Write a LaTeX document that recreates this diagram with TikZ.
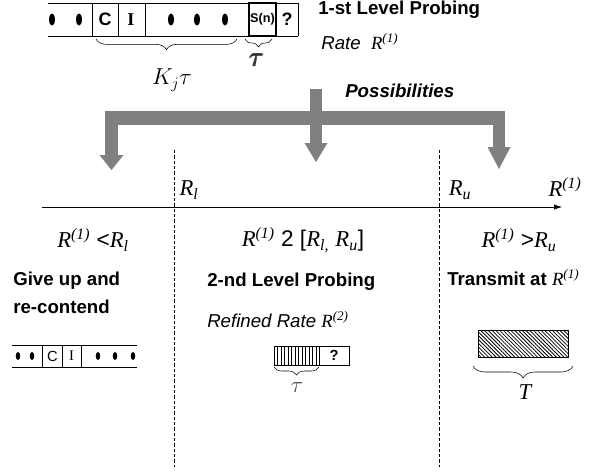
\documentclass[tikz,border=0pt]{standalone}
\usepackage{amsmath}
\usepackage{fontspec}
\setmainfont{Liberation Sans}
\newfontfamily\tim{Liberation Serif}
\usetikzlibrary{decorations.pathreplacing,arrows.meta,patterns.meta}
\definecolor{arrowgrey}{HTML}{808080}
\newcommand{\Rsup}[1]{{\tim\mdseries\itshape R\textsuperscript{(#1)}}}
\newcommand{\Rsub}[1]{{\tim\mdseries\itshape R\textsubscript{#1}}}
\tikzset{
  gar/.style={fill=arrowgrey,draw=none},
  lbl/.style={inner sep=0pt,anchor=west},
  boldtxt/.style={lbl,font=\fontsize{14}{16}\selectfont\bfseries},
  ittxt/.style={lbl,font=\fontsize{14}{16}\selectfont\itshape},
  mtxt/.style={inner sep=0pt,font=\fontsize{17}{19}\selectfont},
  cell/.style={inner sep=0pt,font=\fontsize{13.5}{15}\selectfont\bfseries},
  bracedn/.style={decorate,decoration={brace,mirror,amplitude=#1}},
  sep/.style={dash pattern=on 2.5pt off 1.5pt,line width=0.5pt},
}
\begin{document}
\begin{tikzpicture}[x=0.75pt,y=-0.75pt]
\useasboundingbox (0,0) rectangle (602,472);
% ---------- top strip ----------
\draw (48,3) -- (298,3);
\draw (48,36) -- (298,36);
\foreach \x in {92,118,145,249,276,298} \draw (\x,3) -- (\x,36);
\draw[line width=1.2pt] (249,3) rectangle (276,36);
\foreach \x in {52,79,171,197,225} \fill (\x,19.5) ellipse [x radius=2.2pt, y radius=4.6pt];
\node[cell] (c1) at (105,19.5) {C};
\node[cell,font=\fontsize{13.5}{15}\selectfont\bfseries\tim] (i1) at (131,19.5) {I};
\node[cell,font=\fontsize{9.5}{11}\selectfont\bfseries] (sn) at (262.5,19.5) {S(n)};
\node[cell] (q1) at (287,19.5) {?};
\draw[bracedn=8pt] (96,39) -- (237,39);
\draw[bracedn=6pt] (245,39) -- (272,39);
\node[inner sep=0pt,font=\fontsize{17}{19}\selectfont] (kj) at (172,80) {$K_j\tau$};
\node[inner sep=0pt,text=black!80,font=\fontsize{20}{22}\selectfont] (tau1) at (257,60) {$\pmb{\tau}$};
\node[boldtxt] (lev1) at (318,10) {1-st Level Probing};
\node[ittxt] (rate) at (321,42) {Rate\ \ \Rsup{1}};
\node[boldtxt,font=\fontsize{14}{16}\selectfont\bfseries\itshape] (poss) at (345,91) {Possibilities};
% ---------- grey arrows ----------
\fill[gar] (310,89) rectangle (322,143);
\fill[gar] (304.5,143) -- (327.5,143) -- (316,162) -- cycle;
\fill[gar] (105,111) rectangle (505,125);
\fill[gar] (105,125) rectangle (118,155);
\fill[gar] (99.5,155) -- (123.5,155) -- (111.5,170) -- cycle;
\fill[gar] (493,125) rectangle (505,147);
\fill[gar] (487.5,147) -- (510.5,147) -- (499,169) -- cycle;
% ---------- separators and axis ----------
\coordinate (dl0) at (174,150); \coordinate (dl1) at (174,467);
\coordinate (dr0) at (439,150); \coordinate (dr1) at (439,467);
\draw[sep] (dl0) -- (dl1);
\draw[sep] (dr0) -- (dr1);
\coordinate (ax0) at (42,207); \coordinate (ax1) at (562,207);
\draw[-{Latex[length=6pt,width=4pt]}] (ax0) -- (ax1);
\node[mtxt] (rl) at (189,190) {\Rsub{l}};
\node[mtxt] (ru) at (460,190) {\Rsub{u}};
\node[mtxt] (r1) at (565,187) {\Rsup{1}};
\node[mtxt] (c1a) at (93,240) {\Rsup{1} <\Rsub{l}};
\node[mtxt] (c2a) at (303,240) {\Rsup{1} 2 [{\tim\itshape R\textsubscript{l,}} \Rsub{u}]};
\node[mtxt] (c3a) at (519,240) {\Rsup{1} >\Rsub{u}};
% ---------- left column ----------
\node[boldtxt] (give) at (13,281) {Give up and};
\node[boldtxt] (recon) at (13,307) {re-contend};
\draw (12,345) -- (137,345);
\draw (12,367) -- (137,367);
\foreach \x in {42,62,81} \draw (\x,345) -- (\x,367);
\foreach \x in {18,32,98,115,133} \fill (\x,356) ellipse [x radius=1.7pt, y radius=3pt];
\node[inner sep=0pt,font=\fontsize{11}{13}\selectfont] (c2) at (52.5,356) {C};
\node[inner sep=0pt,font=\fontsize{11}{13}\selectfont\tim] (i2) at (71.5,356) {I};
% ---------- middle column ----------
\node[boldtxt] (lev2) at (207,282) {2-nd Level Probing};
\node[ittxt] (ref) at (207,320) {Refined Rate \Rsup{2}};
\draw (274,346) rectangle (319,365);
\foreach \x in {277.5,281,284.5,288,291.5,295,298.5,302,305.5,309,312.5,316} \draw[line width=0.35pt] (\x,346) -- (\x,365);
\draw (319,346) rectangle (349,365);
\node[cell,font=\fontsize{11}{13}\selectfont\bfseries] (q2) at (334,355.5) {?};
\draw[bracedn=6pt] (274,367) -- (319,367);
\node[inner sep=0pt,text=black!70,font=\fontsize{17}{19}\selectfont] (tau2) at (297,388) {$\tau$};
% ---------- right column ----------
\node[boldtxt] (trans) at (447,278) {Transmit at \Rsup{1}};
\fill[pattern={Lines[angle=-45,distance=2pt,line width=0.6pt]}] (478,330) rectangle (568,357);
\draw (478,330) rectangle (568,357);
\draw[bracedn=9pt] (473,366) -- (573,366);
\node[inner sep=0pt,font=\fontsize{17}{19}\selectfont\tim\itshape] (tt) at (525,392) {T};
\end{tikzpicture}
\end{document}
